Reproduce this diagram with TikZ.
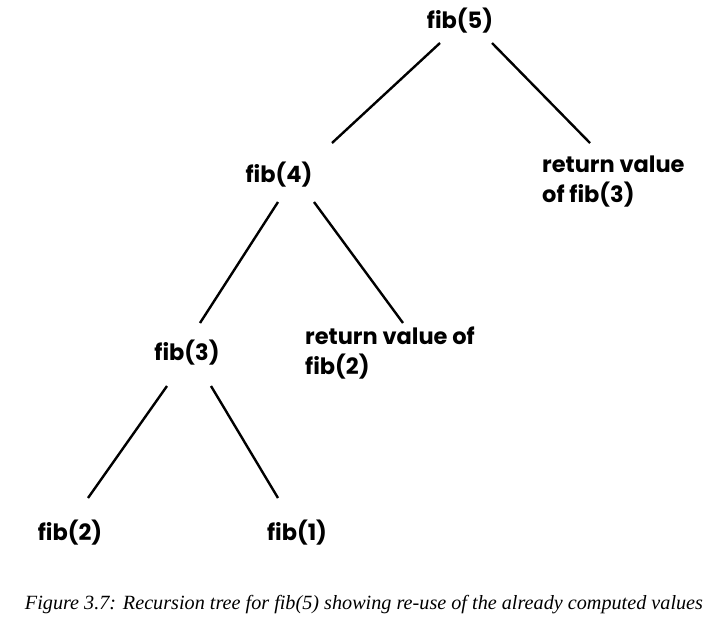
\documentclass[tikz,border=0pt]{standalone}
\usepackage{fontspec}
\setmainfont{Poppins}
\newfontfamily\capfont{Liberation Serif}
\begin{document}
\begin{tikzpicture}[x=1pt,y=-1pt,
  lbl/.style={font=\fontsize{22.5}{30}\selectfont\bfseries, inner sep=0pt, text=black},
  edge/.style={line width=2.4pt, black}]
\useasboundingbox (0,0) rectangle (722,622);
\node[lbl] (fib5) at (460,21) {fib(5)};
\node[lbl] (fib4) at (279,175) {fib(4)};
\node[lbl] (fib3) at (187,353) {fib(3)};
\node[lbl] (fib2) at (70,533) {fib(2)};
\node[lbl] (fib1) at (297,533) {fib(1)};
\node[lbl, anchor=west, align=left] (ret3) at (542,182) {return value\\of fib(3)};
\node[lbl, anchor=west, align=left] (ret2) at (305,353) {return value of\\fib(2)};
\draw[edge] ([shift={(-20,22)}]fib5.center) -- ([shift={(53,-32)}]fib4.center);
\draw[edge] ([shift={(32,22)}]fib5.center) -- ([shift={(48,-39)}]ret3.west);
\draw[edge] ([shift={(-1,27)}]fib4.center) -- ([shift={(13,-30)}]fib3.center);
\draw[edge] ([shift={(35,27)}]fib4.center) -- ([shift={(98,-30)}]ret2.west);
\draw[edge] ([shift={(-20,33)}]fib3.center) -- ([shift={(18,-35)}]fib2.center);
\draw[edge] ([shift={(24,33)}]fib3.center) -- ([shift={(-19,-35)}]fib1.center);
\node[font=\capfont\itshape\fontsize{20.2}{24}\selectfont, inner sep=0pt] (cap) at (364,605) {Figure 3.7: Recursion tree for fib(5) showing re-use of the already computed values};
\end{tikzpicture}
\end{document}
